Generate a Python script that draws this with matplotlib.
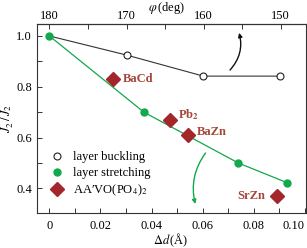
import matplotlib
matplotlib.use("Agg")
import matplotlib.pyplot as plt
from matplotlib.lines import Line2D
from matplotlib.patches import FancyArrowPatch
from matplotlib.ticker import MultipleLocator, FixedLocator

plt.rcParams['font.family'] = ['Liberation Serif', 'DejaVu Serif']
plt.rcParams['mathtext.fontset'] = 'stix'

# layer buckling (open circles)
buck_d = [0.0, 0.0302, 0.0603, 0.0903]
buck_J = [1.0, 0.925, 0.842, 0.842]

# layer stretching (green dots)
stretch_d = [0.0, 0.037, 0.074, 0.0932]
stretch_J = [1.0, 0.70, 0.50, 0.422]

# AA'VO(PO4)2 compounds
comp_names = ['BaCd', r'Pb$_\mathbf{2}$', 'BaZn', 'SrZn']
comp_d = [0.025, 0.0472, 0.0541, 0.089]
comp_J = [0.83, 0.668, 0.612, 0.37]

x_ticks = [0, 0.02, 0.04, 0.06, 0.08, 0.10]
x_labels = ['0', '0.02', '0.04', '0.06', '0.08', '0.10']
y_ticks = [0.4, 0.6, 0.8, 1.0]
y_labels = ['0.4', '0.6', '0.8', '1.0']
phi_ticks = [180, 170, 160, 150]
deg_step = 0.00302  # delta d per degree

green = '#12a84b'
red = '#a3262a'
label_red = '#a4463c'

fig = plt.figure(figsize=(3.07, 2.48), dpi=100)
ax = fig.add_axes([0.1195, 0.14, 0.8763, 0.763])

ax.plot(buck_d, buck_J, '-', color='#333333', lw=0.8, zorder=2)
ax.plot(buck_d[1:], buck_J[1:], 'o', ms=5, mfc='white', mec='#222222', mew=0.8,
        ls='none', zorder=3)
ax.plot(stretch_d, stretch_J, '-', color=green, lw=0.9, zorder=2)
ax.plot(stretch_d, stretch_J, 'o', ms=5, color=green, ls='none', zorder=4)
ax.plot(comp_d, comp_J, 'D', ms=7.5, color=red, ls='none', zorder=5)

offsets = [(7, 0, 'left'), (6, 4, 'left'), (7, 2, 'left'), (-8, 0, 'right')]
for name, d, j, (dx, dy, ha) in zip(comp_names, comp_d, comp_J, offsets):
    ax.annotate(name, (d, j), xytext=(dx, dy), textcoords='offset points',
                ha=ha, va='center', fontsize=9, fontweight='bold', color=label_red)

# arrows
ax.add_patch(FancyArrowPatch((0.070, 0.858), (0.074, 1.023),
                             connectionstyle='arc3,rad=0.3', arrowstyle='-|>',
                             mutation_scale=6, color='#111111', lw=1.0))
ax.add_patch(FancyArrowPatch((0.0618, 0.548), (0.0574, 0.328),
                             connectionstyle='arc3,rad=0.25', arrowstyle='-|>',
                             mutation_scale=6, color=green, lw=1.0))

ax.set_xlim(-0.005, 0.1004)
ax.set_ylim(0.302, 1.047)
ax.xaxis.set_major_locator(FixedLocator(x_ticks))
ax.set_xticklabels(x_labels)
ax.get_xticklabels()[-1].set_horizontalalignment('right')
ax.xaxis.set_minor_locator(MultipleLocator(0.01))
ax.yaxis.set_major_locator(FixedLocator(y_ticks))
ax.set_yticklabels(y_labels)
ax.yaxis.set_minor_locator(MultipleLocator(0.1))
ax.tick_params(which='both', direction='in', labelsize=9, width=0.7,
               length=3.5, color='#333333')
ax.tick_params(axis='x', pad=5)
for s in ax.spines.values():
    s.set_linewidth(0.8)
    s.set_color('#333333')

ax.set_xlabel(r'$\Delta d\,$(Å)', fontsize=9)
ax.xaxis.set_label_coords(0.5, -0.095)
ax.set_ylabel(r"$J_2'\,/\,J_2$", fontsize=9)
ax.yaxis.set_label_coords(-0.078, 0.5)

top = ax.secondary_xaxis('top', functions=(lambda d: 180 - d / deg_step,
                                           lambda p: (180 - p) * deg_step))
top.xaxis.set_major_locator(FixedLocator(phi_ticks))
top.xaxis.set_minor_locator(FixedLocator([175, 165, 155]))
top.tick_params(which='both', direction='in', labelsize=9, length=3.5, width=0.7,
                color='#333333', pad=1.5)
ax.text(0.483, 1.083, r'$\varphi\,$(deg)', transform=ax.transAxes, fontsize=9,
        ha='center', va='center', clip_on=False)

handles = [
    Line2D([], [], marker='o', ms=5, mfc='white', mec='#222222', mew=0.8, ls='none'),
    Line2D([], [], marker='o', ms=5, color=green, ls='none'),
    Line2D([], [], marker='D', ms=7.5, color=red, ls='none'),
]
labels = ['layer buckling', 'layer stretching', 'AA′VO(PO$_4$)$_2$']
ax.legend(handles, labels, loc='lower left', bbox_to_anchor=(0.0, 0.02),
          frameon=False, fontsize=9, handletextpad=0.5, labelspacing=0.3,
          handlelength=1.5)

fig.savefig('out.png', dpi=100)
